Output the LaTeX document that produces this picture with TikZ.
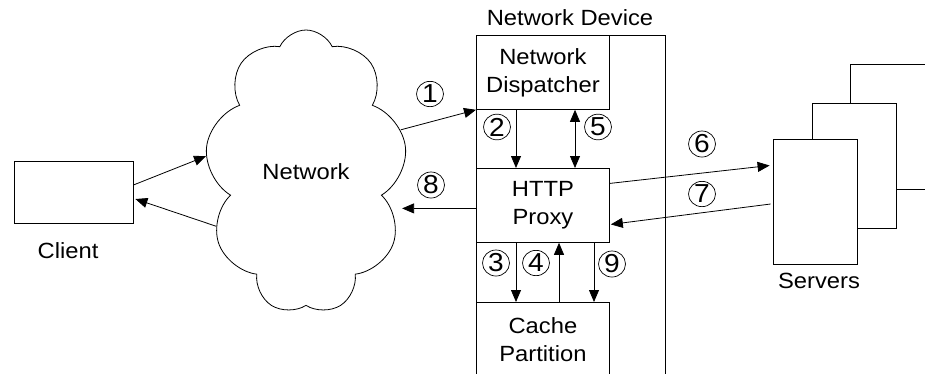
\documentclass[tikz,border=0pt]{standalone}
\usepackage{fontspec}
\setmainfont{Liberation Sans}[FakeStretch=1.08]
\usetikzlibrary{shapes.geometric, shapes.symbols, arrows.meta, positioning, calc}
\tikzset{
  unitbox/.style={rectangle, draw, line width=0.8pt, minimum width=133pt, minimum height=74pt, align=center, inner sep=0pt, anchor=north west},
  hostbox/.style={rectangle, draw, fill=white, line width=0.8pt, minimum width=84pt, minimum height=125pt},
  stepnum/.style={ellipse, draw, line width=0.7pt, minimum width=27pt, minimum height=24pt, inner sep=0pt, font=\fontsize{26}{26}\selectfont},
  arrow/.style={-{Triangle[length=12pt,width=10pt]}, line width=0.8pt},
  twoarrow/.style={{Triangle[length=12pt,width=10pt]}-{Triangle[length=12pt,width=10pt]}, line width=0.8pt}
}

\begin{document}
\begin{tikzpicture}[x=1pt, y=-1pt, every node/.style={font=\fontsize{22}{28}\selectfont}]
  \clip (0,0) rectangle (925,373);

  % Client and network
  \node[rectangle, draw, line width=0.8pt, minimum width=119pt, minimum height=62pt] (client) at (73.5,192) {};
  \node (clientlabel) at (68,251) {Client};
  \node[cloud, draw, line width=0.8pt, cloud puffs=9, cloud puff arc=130, cloud ignores aspect, minimum width=202pt, minimum height=284pt] (net) at (306,172) {Network};

  % Network device
  \node[rectangle, draw, line width=0.8pt, minimum width=189pt, minimum height=400pt, anchor=north west] (dev) at (476,35) {};
  \node (devlabel) at (570,18) {Network Device};
  \node[unitbox] (disp) at (476,35) {Network\\Dispatcher};
  \node[unitbox] (proxy) at (476,168) {HTTP\\Proxy};
  \node[unitbox] (cache) at (476,302) {Cache\\Partition};

  % Servers
  \node[hostbox] (srv3) at (892,126.5) {};
  \node[hostbox] (srv2) at (854.5,165.5) {};
  \node[hostbox] (srv1) at (815,201.5) {};
  \node (srvlabel) at (819,281) {Servers};

  % Flows
  \draw[arrow] ($(client.east)+(0,-7)$) -- (net.171);
  \draw[arrow] (net.211) -- ($(client.east)+(2,7)$);
  \draw[arrow] (net.24) -- (disp.south west);
  \draw[arrow] ($(disp.south west)+(40,0)$) -- ($(proxy.north west)+(40,0)$);
  \draw[twoarrow] ($(disp.south west)+(99,0)$) -- ($(proxy.north west)+(99,0)$);
  \draw[arrow] ($(proxy.south west)+(40,0)$) -- ($(cache.north west)+(40,0)$);
  \draw[arrow] ($(cache.north west)+(83,0)$) -- ($(proxy.south west)+(83,0)$);
  \draw[arrow] ($(proxy.south west)+(118,0)$) -- ($(cache.north west)+(118,0)$);
  \draw[arrow] ($(proxy.east)+(0,-22)$) -- ($(srv1.west)+(-3,-36)$);
  \draw[arrow] ($(srv1.west)+(-2,2.5)$) -- ($(proxy.east)+(1,19)$);
  \coordinate (back) at ($(proxy.west)+(0,3)$);
  \draw[arrow] (back) -- (back -| net.east);

  % Step numbers
  \node[stepnum] (s1) at (430,94) {1};
  \node[stepnum] (s2) at (497,127) {2};
  \node[stepnum] (s3) at (496,263) {3};
  \node[stepnum] (s4) at (536,263) {4};
  \node[stepnum] (s5) at (598,127) {5};
  \node[stepnum] (s6) at (702,144) {6};
  \node[stepnum] (s7) at (702,194) {7};
  \node[stepnum] (s8) at (431,185) {8};
  \node[stepnum] (s9) at (612,264) {9};
\end{tikzpicture}
\end{document}
